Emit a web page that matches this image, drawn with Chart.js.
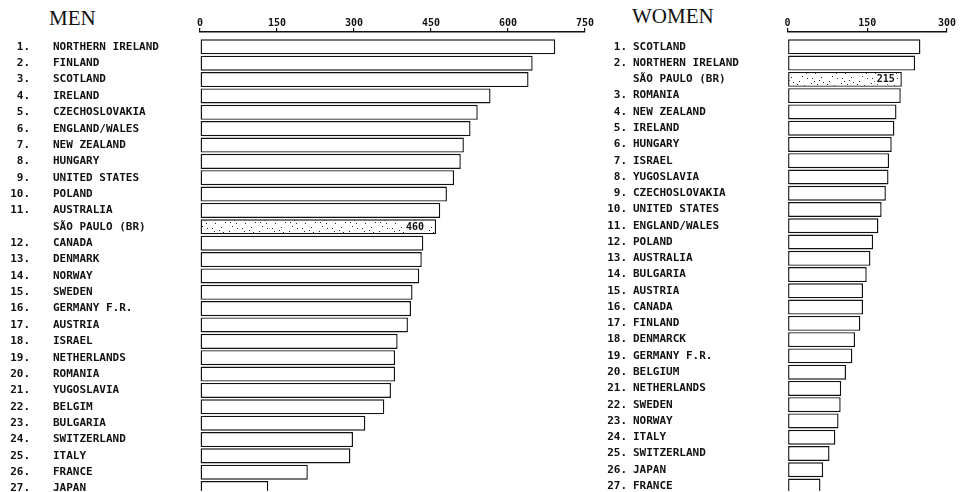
<!DOCTYPE html>
<html><head><meta charset="utf-8">
<script src="https://cdn.jsdelivr.net/npm/chart.js@4/dist/chart.umd.min.js"></script>
<style>
html,body{margin:0;padding:0;background:#fff;overflow:hidden;width:961px;height:492px}
#men{position:absolute;left:0;top:0;width:600px;height:492px}
#women{position:absolute;left:600px;top:0;width:361px;height:492px}
.title{position:absolute;font-family:"Liberation Serif",serif;font-size:21px;line-height:21px;color:#111;white-space:nowrap}
</style></head><body>
<div class="title" style="left:49px;top:8px">MEN</div>
<div class="title" style="left:632px;top:6px">WOMEN</div>
<div id="men"><canvas id="cm"></canvas></div>
<div id="women"><canvas id="cw"></canvas></div>
<script>
const menCountries = ["NORTHERN IRELAND","FINLAND","SCOTLAND","IRELAND","CZECHOSLOVAKIA","ENGLAND/WALES","NEW ZEALAND","HUNGARY","UNITED STATES","POLAND","AUSTRALIA","SÃO PAULO (BR)","CANADA","DENMARK","NORWAY","SWEDEN","GERMANY F.R.","AUSTRIA","ISRAEL","NETHERLANDS","ROMANIA","YUGOSLAVIA","BELGIM","BULGARIA","SWITZERLAND","ITALY","FRANCE","JAPAN"];
const menRanks = ["1.","2.","3.","4.","5.","6.","7.","8.","9.","10.","11.","","12.","13.","14.","15.","16.","17.","18.","19.","20.","21.","22.","23.","24.","25.","26.","27."];
const menRates = [692,648,640,566,541,527,514,508,495,481,468,460,435,432,427,414,411,405,385,380,380,372,359,322,298,293,210,133];
const menHighlight = 11;

const womenCountries = ["SCOTLAND","NORTHERN IRELAND","SÃO PAULO (BR)","ROMANIA","NEW ZEALAND","IRELAND","HUNGARY","ISRAEL","YUGOSLAVIA","CZECHOSLOVAKIA","UNITED STATES","ENGLAND/WALES","POLAND","AUSTRALIA","BULGARIA","AUSTRIA","CANADA","FINLAND","DENMARCK","GERMANY F.R.","BELGIUM","NETHERLANDS","SWEDEN","NORWAY","ITALY","SWITZERLAND","JAPAN","FRANCE"];
const womenRanks = ["1.","2.","","3.","4.","5.","6.","7.","8.","9.","10.","11.","12.","13.","14.","15.","16.","17.","18.","19.","20.","21.","22.","23.","24.","25.","26.","27."];
const womenRates = [250,240,215,213,205,201,196,191,190,185,177,171,161,156,149,142,142,137,127,122,110,101,100,96,90,79,67,62];
const womenHighlight = 2;

const menTicks = [0,150,300,450,600,750];
const womenTicks = [0,150,300];

const INK = '#111';
const labelFont = {family:'"DejaVu Sans Mono", monospace', weight:'bold', size:11, lineHeight:0.2};
const tickFont = {family:'"DejaVu Sans Mono", monospace', weight:'bold', size:10, lineHeight:1};

function stipple(){
  const c = document.createElement('canvas'); c.width = 30; c.height = 15;
  const g = c.getContext('2d');
  g.fillStyle = '#fff'; g.fillRect(0,0,30,15);
  g.fillStyle = '#222';
  const dots = [[2,3],[7,9],[11,2],[15,12],[19,6],[24,10],[27,3],[5,13],[13,7],[22,1],[9,5],[17,9],[26,13],[1,8],[20,12],[4,6]];
  dots.forEach(([x,y]) => g.fillRect(x,y,1,1));
  return g.createPattern(c,'repeat');
}
const pattern = stipple();

const valueLabel = {
  id:'valueLabel',
  afterDatasetsDraw(chart, args, opts){
    const meta = chart.getDatasetMeta(0);
    const bar = meta.data[opts.index];
    if (!bar) return;
    const ctx = chart.ctx;
    ctx.save();
    ctx.font = 'bold 10px "DejaVu Sans Mono", monospace';
    const txt = String(chart.data.datasets[0].data[opts.index].x);
    const w = ctx.measureText(txt).width;
    const xr = bar.x - opts.gap;
    ctx.fillStyle = '#fff';
    ctx.fillRect(xr - w - 2, bar.y - 5, w + 4, 10);
    ctx.fillStyle = INK; ctx.textAlign = 'right'; ctx.textBaseline = 'middle';
    ctx.fillText(txt, xr, bar.y + 0.5);
    ctx.restore();
  }
};

function rowTicks(list){ return list.map((_, i) => ({value:i})); }

function makeChart(id, names, ranks, values, highlight, ticks, cfg){
  const xmax = ticks[ticks.length-1];
  const yBase = {type:'linear', position:'left', reverse:true, offset:false, bounds:'data',
                 min:cfg.yMin, max:cfg.yMax,
                 afterBuildTicks: s => { s.ticks = rowTicks(names); },
                 border:{display:false}};
  new Chart(document.getElementById(id), {
    type:'bar',
    data:{datasets:[{
      data: values.map((v,i)=>({x:v, y:i})),
      backgroundColor: c => c.dataIndex === highlight ? pattern : '#fff',
      borderColor: INK, borderWidth: 1.4, borderSkipped: false,
      barPercentage: 0.92, categoryPercentage: 1
    }]},
    options:{
      indexAxis:'y', responsive:true, maintainAspectRatio:false, animation:false,
      layout:{padding:{left:0, right:cfg.rightPad, top:0, bottom:0}},
      plugins:{legend:{display:false}, tooltip:{enabled:false}, valueLabel:{index:highlight, gap:cfg.gap}},
      scales:{
        x:{type:'linear', position:'top', min:0, max:xmax, bounds:'data',
           afterBuildTicks: s => { s.ticks = ticks.map(v=>({value:v})); },
           ticks:{font:tickFont, color:INK, padding:0, maxRotation:0, autoSkip:false},
           grid:{drawOnChartArea:false, drawTicks:true, tickLength:4, color:INK, lineWidth:1.2},
           border:{display:true, color:INK, width:1.5},
           afterFit: s => { s.height = 32; }},
        y:Object.assign({}, yBase, {weight:0,
           grid:{display:false, drawTicks:false},
           ticks:{autoSkip:false, crossAlign:'far', padding:0, color:INK, font:labelFont,
                  callback: v => (Number.isInteger(v) && names[v] !== undefined) ? names[v] : ''},
           afterFit: s => { s.width = cfg.nameW; }}),
        yr:Object.assign({}, yBase, {weight:1,
           grid:{display:false, drawTicks:true, tickLength:cfg.numGap},
           ticks:{autoSkip:false, padding:0, color:INK, font:labelFont,
                  callback: v => (Number.isInteger(v) && ranks[v] !== undefined) ? ranks[v] : ''},
           afterFit: s => { s.width = cfg.numW; }})
      }
    },
    plugins:[valueLabel]
  });
}

makeChart('cm', menCountries, menRanks, menRates, menHighlight, menTicks,
  {yMin:-0.907, yMax:27.14, numW:53, numGap:23, nameW:147, rightPad:15, gap:12});
makeChart('cw', womenCountries, womenRanks, womenRates, womenHighlight, womenTicks,
  {yMin:-0.912, yMax:27.30, numW:33, numGap:6, nameW:154.5, rightPad:14, gap:7});
</script>
</body></html>
